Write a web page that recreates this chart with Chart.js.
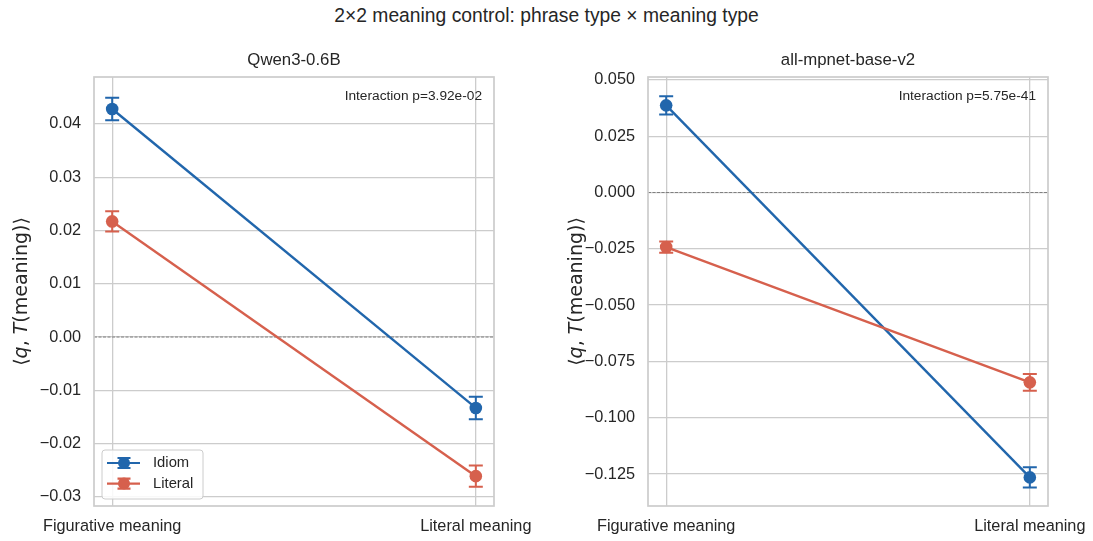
<!DOCTYPE html>
<html><head><meta charset="utf-8">
<script src="https://cdn.jsdelivr.net/npm/chart.js@4.4.0/dist/chart.umd.min.js"></script>
<style>
body{margin:0;background:#fff;width:1093px;height:541px;overflow:hidden;position:relative;font-family:"Liberation Sans",Arial,sans-serif}
#sup{position:absolute;left:0;width:1093px;top:4px;text-align:center;font-size:19.3px;line-height:24px;color:#262626}
canvas{position:absolute;top:0}
#c1{left:0}
#c2{left:546px}
</style></head><body>
<div id="sup">2×2 meaning control: phrase type × meaning type</div>
<canvas id="c1" width="546" height="541"></canvas>
<canvas id="c2" width="547" height="541"></canvas>
<script>
const categories = ['Figurative meaning', 'Literal meaning'];
const seriesNames = ['Idiom', 'Literal'];
const panelTitles = ['Qwen3-0.6B', 'all-mpnet-base-v2'];
const interactionTexts = ['Interaction p=3.92e-02', 'Interaction p=5.75e-41'];

const qwenIdiom = [0.0428, -0.0133];
const qwenIdiomErr = [0.0021, 0.0021];
const qwenLiteral = [0.0217, -0.0261];
const qwenLiteralErr = [0.0019, 0.0020];

const mpnetIdiom = [0.0387, -0.1265];
const mpnetIdiomErr = [0.0040, 0.0045];
const mpnetLiteral = [-0.0242, -0.0843];
const mpnetLiteralErr = [0.0025, 0.0037];

const qwenTicks = [-0.03, -0.02, -0.01, 0.00, 0.01, 0.02, 0.03, 0.04];
const mpnetTicks = [-0.125, -0.100, -0.075, -0.050, -0.025, 0.000, 0.025, 0.050];

const BLUE = '#2166ac', RED = '#d6604d', TXT = '#262626', GRID = '#cccccc';
const FONT = '"Liberation Sans", Arial, sans-serif';
const MATHFONT = '"DejaVu Sans", sans-serif';

function fmt(v, d){ return v.toFixed(d).replace('-', '\u2212'); }

const panelDecor = {
  id: 'panelDecor',
  beforeDatasetsDraw(chart, args, opts){
    const {ctx, chartArea: a, scales: {x, y}} = chart;
    ctx.save();
    const y0 = y.getPixelForValue(0);
    ctx.strokeStyle = '#808080'; ctx.lineWidth = 1.1; ctx.setLineDash([3, 1.5]);
    ctx.beginPath(); ctx.moveTo(a.left, y0); ctx.lineTo(a.right, y0); ctx.stroke();
    ctx.setLineDash([]);
    ctx.strokeStyle = GRID; ctx.lineWidth = 1.7;
    ctx.strokeRect(a.left, a.top, a.right - a.left, a.bottom - a.top);
    chart.data.datasets.forEach(ds => {
      ctx.strokeStyle = ds.borderColor; ctx.lineWidth = 2;
      ds.data.forEach((p, i) => {
        const e = ds.errors[i];
        const px = x.getPixelForValue(p.x);
        const t = y.getPixelForValue(p.y + e), b = y.getPixelForValue(p.y - e);
        ctx.beginPath();
        ctx.moveTo(px, t); ctx.lineTo(px, b);
        ctx.moveTo(px - 7, t); ctx.lineTo(px + 7, t);
        ctx.moveTo(px - 7, b); ctx.lineTo(px + 7, b);
        ctx.stroke();
      });
    });
    ctx.restore();
  },
  afterDraw(chart, args, opts){
    const {ctx, chartArea: a} = chart;
    ctx.save();
    // panel title
    ctx.fillStyle = TXT; ctx.font = '16.8px ' + FONT;
    ctx.textAlign = 'center'; ctx.textBaseline = 'middle';
    ctx.fillText(opts.title, (a.left + a.right) / 2, 60);
    // annotation
    ctx.font = '13.7px ' + FONT;
    ctx.textAlign = 'right'; ctx.textBaseline = 'middle';
    ctx.fillText(opts.note, a.right - 12, a.top + 19);
    // y title with italics
    const segs = [['\u27E8', false], ['q', true], [', ', false], ['T', true], ['(meaning)\u27E9', false]];
    const fs = 19;
    let w = 0;
    segs.forEach(s => { ctx.font = (s[1] ? 'italic ' : '') + fs + 'px ' + MATHFONT; w += ctx.measureText(s[0]).width; });
    ctx.translate(opts.yTitleX, (a.top + a.bottom) / 2);
    ctx.rotate(-Math.PI / 2);
    ctx.textAlign = 'left'; ctx.textBaseline = 'middle';
    let cx = -w / 2;
    segs.forEach(s => {
      ctx.font = (s[1] ? 'italic ' : '') + fs + 'px ' + MATHFONT;
      ctx.fillText(s[0], cx, 0);
      cx += ctx.measureText(s[0]).width;
    });
    ctx.restore();
    if (opts.legend){
      ctx.save();
      const bx = a.left + 8, bw = 101, bh = 49, by = a.bottom - 7 - bh;
      ctx.fillStyle = 'rgba(255,255,255,0.85)'; ctx.strokeStyle = GRID; ctx.lineWidth = 1;
      ctx.beginPath(); ctx.roundRect(bx, by, bw, bh, 3); ctx.fill(); ctx.stroke();
      chart.data.datasets.forEach((ds, i) => {
        const cy = by + 13 + i * 20.6;
        const x1 = bx + 5, x2 = bx + 38, xm = bx + 22;
        ctx.strokeStyle = ds.borderColor; ctx.lineWidth = 2.2;
        ctx.beginPath(); ctx.moveTo(x1, cy); ctx.lineTo(x2, cy);
        ctx.moveTo(xm, cy - 5); ctx.lineTo(xm, cy + 5);
        ctx.moveTo(xm - 6.5, cy - 5); ctx.lineTo(xm + 6.5, cy - 5);
        ctx.moveTo(xm - 6.5, cy + 5); ctx.lineTo(xm + 6.5, cy + 5);
        ctx.stroke();
        ctx.fillStyle = ds.borderColor;
        ctx.beginPath(); ctx.arc(xm, cy, 6, 0, Math.PI * 2); ctx.fill();
        ctx.fillStyle = TXT; ctx.font = '14.8px ' + FONT;
        ctx.textAlign = 'left'; ctx.textBaseline = 'middle';
        ctx.fillText(ds.label, bx + 51, cy);
      });
      ctx.restore();
    }
  }
};

function makePanel(id, title, idiom, idiomErr, literal, literalErr, yMin, yMax, ticks, dec, note, yAxisW, padRight, yTitleX, legend){
  const pts = arr => arr.map((v, i) => ({x: i, y: v}));
  return new Chart(document.getElementById(id), {
    type: 'line',
    data: {
      datasets: [
        {label: seriesNames[0], data: pts(idiom), errors: idiomErr, borderColor: BLUE, backgroundColor: BLUE,
         borderWidth: 2.4, pointRadius: 6.3, pointBorderWidth: 0, pointBackgroundColor: BLUE, order: 1},
        {label: seriesNames[1], data: pts(literal), errors: literalErr, borderColor: RED, backgroundColor: RED,
         borderWidth: 2.4, pointRadius: 6.3, pointBorderWidth: 0, pointBackgroundColor: RED, order: 0}
      ]
    },
    options: {
      responsive: false, animation: false, devicePixelRatio: 1,
      layout: {padding: {left: 0, right: padRight, top: 77, bottom: 0}},
      plugins: {
        legend: {display: false}, tooltip: {enabled: false}, title: {display: false},
        panelDecor: {title: title, note: note, yTitleX: yTitleX, legend: legend}
      },
      scales: {
        x: {
          type: 'linear', min: -0.05, max: 1.05,
          afterBuildTicks: s => { s.ticks = categories.map((c, i) => ({value: i})); },
          afterFit: s => { s.height = 35; s.paddingLeft = 0; s.paddingRight = 0; },
          ticks: {callback: v => categories[Math.round(v)], color: TXT, font: {family: FONT, size: 16.3}, padding: 11, autoSkip: false, maxRotation: 0},
          grid: {color: GRID, lineWidth: 1.3, drawTicks: false},
          border: {display: false}
        },
        y: {
          type: 'linear', min: yMin, max: yMax,
          afterBuildTicks: s => { s.ticks = ticks.map(v => ({value: v})); },
          afterFit: s => { s.width = yAxisW; },
          ticks: {callback: v => fmt(v, dec), color: TXT, font: {family: FONT, size: 16.3}, padding: 13, autoSkip: false},
          grid: {color: GRID, lineWidth: 1.3, drawTicks: false},
          border: {display: false}
        }
      }
    },
    plugins: [panelDecor]
  });
}

makePanel('c1', panelTitles[0], qwenIdiom, qwenIdiomErr, qwenLiteral, qwenLiteralErr,
  -0.0317, 0.0488, qwenTicks, 2, interactionTexts[0], 94, 52, 22, true);
makePanel('c2', panelTitles[1], mpnetIdiom, mpnetIdiomErr, mpnetLiteral, mpnetLiteralErr,
  -0.1392, 0.0513, mpnetTicks, 3, interactionTexts[1], 102, 45, 31, false);
</script>
</body></html>
